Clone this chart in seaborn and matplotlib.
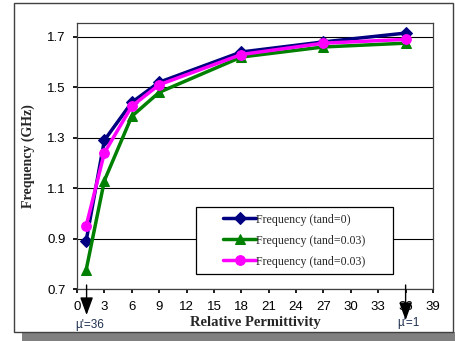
import matplotlib
matplotlib.use("Agg")
import matplotlib.pyplot as plt
import seaborn as sns
from matplotlib.patches import Rectangle

# Data
permittivity = [1, 3, 6, 9, 18, 27, 36]
freq_tand0 = [0.89, 1.29, 1.44, 1.52, 1.64, 1.68, 1.715]
freq_tand003_a = [0.775, 1.13, 1.385, 1.48, 1.62, 1.66, 1.675]
freq_tand003_b = [0.95, 1.24, 1.425, 1.51, 1.63, 1.675, 1.69]
series_labels = ["Frequency (tand=0)", "Frequency (tand=0.03)", "Frequency (tand=0.03)"]
x_ticks = list(range(0, 40, 3))
y_ticks = [0.7, 0.9, 1.1, 1.3, 1.5, 1.7]

sns.set_theme(style="white")
plt.rcParams["font.family"] = ["Liberation Sans", "DejaVu Sans"]

fig = plt.figure(figsize=(4.55, 3.41), dpi=100)

# outer chart frame with drop shadow
fig.patches.append(Rectangle((22 / 455, 0), 433 / 455, 1 - 332 / 341, transform=fig.transFigure,
                             facecolor="#808080", edgecolor="none", zorder=0))
fig.patches.append(Rectangle((14 / 455, 1 - 332 / 341), 439 / 455, 329 / 341, transform=fig.transFigure,
                             facecolor="white", edgecolor="#404040", linewidth=1.0, zorder=1))

ax = fig.add_axes([77 / 455, 1 - 289 / 341, 356 / 455, 266 / 341])
ax.set_zorder(2)

styles = [("#000080", "D", 6), ("#008000", "^", 7), ("#FF00FF", "o", 7)]
for vals, lab, (col, mk, ms) in zip([freq_tand0, freq_tand003_a, freq_tand003_b], series_labels, styles):
    sns.lineplot(x=permittivity, y=vals, ax=ax, color=col, marker=mk, markersize=ms,
                 markeredgecolor=col, linewidth=2.5, label=lab)

ax.set_xlim(0, 39)
ax.set_ylim(0.7, 1.755)
ax.set_xticks(x_ticks)
ax.set_yticks(y_ticks)
ax.set_yticklabels([f"{v:.1f}" for v in y_ticks])
ax.yaxis.grid(True, color="black", linewidth=0.8)
ax.xaxis.grid(False)
ax.tick_params(axis="both", labelsize=9.5, colors="black", length=3, direction="out",
               bottom=True, left=True)
ax.tick_params(axis="x", pad=6)
ax.tick_params(axis="y", pad=5)
for sp in ax.spines.values():
    sp.set_color("#404040")
    sp.set_linewidth(0.9)

ax.set_xlabel("Relative Permittivity", fontfamily="Liberation Serif", fontweight="bold",
              fontsize=10.5, labelpad=2)
ax.set_ylabel("Frequency (GHz)", fontfamily="Liberation Serif", fontweight="bold",
              fontsize=10, labelpad=9)

# legend: frame drawn separately so the entries can sit centred with wide side padding
ax.add_patch(Rectangle((0.334, 0.056), 0.554, 0.252, transform=ax.transAxes, facecolor="white",
                       edgecolor="black", linewidth=0.9, zorder=4))
leg = ax.legend(loc="center", bbox_to_anchor=(0.611, 0.182), frameon=False,
                prop={"family": "Liberation Serif", "size": 8.6}, handlelength=2.7,
                handletextpad=0.05, borderaxespad=0, labelspacing=0.75)
leg.set_zorder(5)

# mu' arrows below the x axis
for xv, tip, ty, txt in [(1.05, -0.098, -0.135, "\u00b5'=36"), (36, -0.117, -0.128, "\u00b5'=1")]:
    ax.annotate("", xy=(xv, tip), xytext=(xv, 0.015), xycoords=("data", "axes fraction"),
                arrowprops=dict(arrowstyle="-|>,head_length=0.6,head_width=0.22", color="black",
                                lw=1.0, mutation_scale=18, shrinkA=0, shrinkB=0),
                annotation_clip=False)
    ax.text(xv + 0.3, ty, txt, transform=ax.get_xaxis_transform(), ha="center", va="center",
            fontsize=8.5, color="#1f3050")

fig.savefig("out.png", dpi=100)
